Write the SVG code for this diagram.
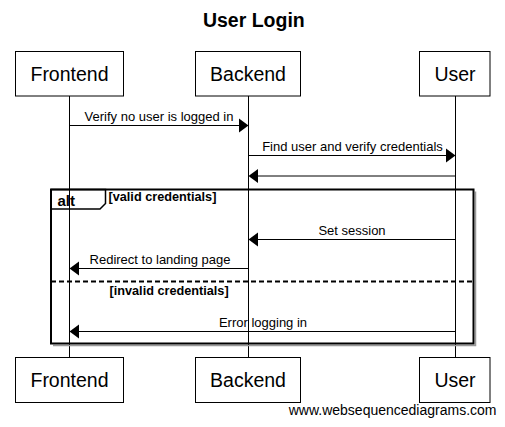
<svg xmlns="http://www.w3.org/2000/svg" width="505" height="427" viewBox="0 0 505 427">
<defs>
<style>
.box{fill:#fff;stroke:#000;stroke-width:1}
.name{font-family:"Liberation Sans",Arial,sans-serif;font-size:19.5px;text-anchor:middle;fill:#000}
.life{stroke:#000;stroke-width:1}
.msg{stroke:#000;stroke-width:1;fill:none}
.lbl{font-family:"Liberation Sans",Arial,sans-serif;font-size:13px;text-anchor:middle;fill:#000}
.cond{font-family:"Liberation Sans",Arial,sans-serif;font-size:12.7px;font-weight:bold;fill:#000}
.head{fill:#000}
</style>
</defs>
<rect width="505" height="427" fill="#fff"/>
<text x="253.8" y="26.5" font-family="Liberation Sans, Arial, sans-serif" font-size="19.5" font-weight="bold" text-anchor="middle">User Login</text>

<g id="lifelines">
<line class="life" x1="69.5" y1="96" x2="69.5" y2="357.5"/>
<line class="life" x1="248.5" y1="96" x2="248.5" y2="357.5"/>
<line class="life" x1="455.5" y1="96" x2="455.5" y2="357.5"/>
</g>

<g id="alt-fragment">
<polyline points="53,345.5 475.5,345.5 475.5,191.5" fill="none" stroke="#999" stroke-width="1.5"/>
<rect x="51" y="189.5" width="422.5" height="154" fill="none" stroke="#000" stroke-width="2"/>
<path d="M51,189.5 H105.5 V203.5 L100,209 H51" fill="none" stroke="#000" stroke-width="1.5"/>
<text x="57.5" y="206" font-family="Liberation Sans, Arial, sans-serif" font-size="15" font-weight="bold">alt</text>
<text class="cond" x="108.5" y="200.5">[valid credentials]</text>
<line x1="51" y1="281.5" x2="473.5" y2="281.5" stroke="#000" stroke-width="2" stroke-dasharray="5,3"/>
<text class="cond" x="109.5" y="295">[invalid credentials]</text>
</g>

<g id="connectors">
<line class="msg" x1="69.5" y1="125.5" x2="240" y2="125.5"/>
<polygon class="head" points="248.5,125.5 239,118.5 239,132.5"/>
<text class="lbl" x="159" y="121">Verify no user is logged in</text>

<line class="msg" x1="248.5" y1="155.5" x2="447" y2="155.5"/>
<polygon class="head" points="455.5,155.5 446,148.5 446,162.5"/>
<text class="lbl" x="352.5" y="151">Find user and verify credentials</text>

<line class="msg" x1="257" y1="176" x2="455.5" y2="176"/>
<polygon class="head" points="248.5,176 258,169 258,183"/>

<line class="msg" x1="257" y1="239.5" x2="455.5" y2="239.5"/>
<polygon class="head" points="248.5,239.5 258,232.5 258,246.5"/>
<text class="lbl" x="352" y="235">Set session</text>

<line class="msg" x1="78" y1="268.5" x2="248.5" y2="268.5"/>
<polygon class="head" points="69.5,268.5 79,261.5 79,275.5"/>
<text class="lbl" x="160" y="264">Redirect to landing page</text>

<line class="msg" x1="78" y1="331.5" x2="455.5" y2="331.5"/>
<polygon class="head" points="69.5,331.5 79,324.5 79,338.5"/>
<text class="lbl" x="263" y="327">Error logging in</text>
</g>

<g id="frontend">
<rect class="box" x="15.5" y="51.5" width="108" height="44.5"/>
<text class="name" x="69.5" y="80.5">Frontend</text>
<rect class="box" x="15.5" y="357.5" width="108" height="45"/>
<text class="name" x="69.5" y="386.5">Frontend</text>
</g>
<g id="backend">
<rect class="box" x="195.5" y="51.5" width="105" height="44.5"/>
<text class="name" x="248" y="80.5">Backend</text>
<rect class="box" x="195.5" y="357.5" width="105" height="45"/>
<text class="name" x="248" y="386.5">Backend</text>
</g>
<g id="user">
<rect class="box" x="419.5" y="51.5" width="70.5" height="44.5"/>
<text class="name" x="455" y="80.5">User</text>
<rect class="box" x="419.5" y="357.5" width="70.5" height="45"/>
<text class="name" x="455" y="386.5">User</text>
</g>

<text x="496.5" y="415" font-family="Liberation Sans, Arial, sans-serif" font-size="14" text-anchor="end">www.websequencediagrams.com</text>
</svg>
